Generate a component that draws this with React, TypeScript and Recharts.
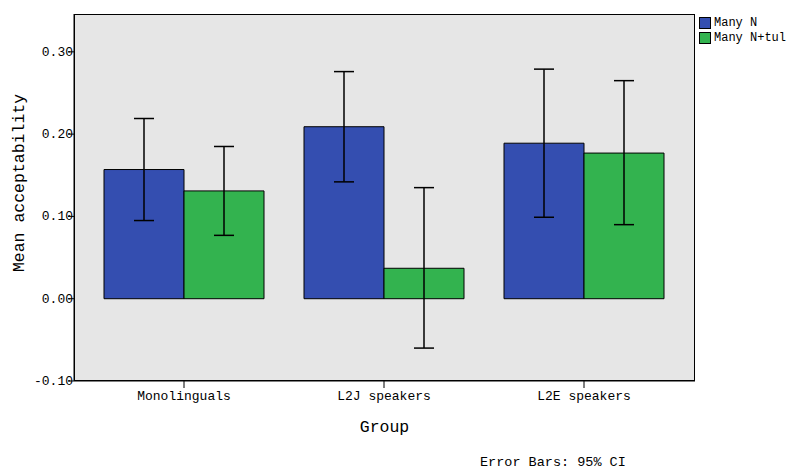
import React from 'react';
import { BarChart, Bar, XAxis, YAxis, CartesianGrid, ErrorBar, Label } from 'recharts';

const groups = ['Monolinguals', 'L2J speakers', 'L2E speakers'];
const manyN = [0.157, 0.209, 0.189];
const manyNLow = [0.095, 0.142, 0.099];
const manyNHigh = [0.219, 0.276, 0.279];
const manyNTul = [0.131, 0.037, 0.177];
const manyNTulLow = [0.077, -0.06, 0.09];
const manyNTulHigh = [0.185, 0.135, 0.265];
const yTicks = [-0.1, 0, 0.1, 0.2, 0.3];
const seriesNames = ['Many N', 'Many N+tul'];

const data = groups.map((g, i) => ({
  group: g,
  manyN: manyN[i],
  manyNErr: [manyN[i] - manyNLow[i], manyNHigh[i] - manyN[i]],
  manyNTul: manyNTul[i],
  manyNTulErr: [manyNTul[i] - manyNTulLow[i], manyNTulHigh[i] - manyNTul[i]],
}));

const FONT = '"Liberation Mono", "DejaVu Sans Mono", monospace';
const BLUE = '#344eb0';
const GREEN = '#33b34f';
const colors = [BLUE, GREEN];

const YTick = (props: any) => {
  const { x, y, payload } = props;
  return (
    <text x={x + 7} y={y} dy={4} textAnchor="end" fontFamily={FONT} fontSize={13} fill="#000">
      {payload.value.toFixed(2)}
    </text>
  );
};

const App = () => {
  return (
    <div style={{ position: 'absolute', left: 0, top: 0, width: 790, height: 471, background: '#fff', overflow: 'hidden' }}>
      <BarChart
        width={790}
        height={471}
        data={data}
        margin={{ top: 14, right: 95, left: 0, bottom: 32 }}
        barCategoryGap="10%"
        barGap={0}
      >
        <CartesianGrid horizontal={false} vertical={false} fill="#e6e6e6" />
        <XAxis
          dataKey="group"
          height={58}
          padding={{ left: 10, right: 11 }}
          tickSize={7}
          tickMargin={3}
          tick={{ fontFamily: FONT, fontSize: 13, fill: '#000' }}
          axisLine={{ stroke: '#000' }}
          tickLine={{ stroke: '#000' }}
        >
          <Label
            value="Group"
            position="insideBottom"
            offset={7}
            style={{ fontFamily: FONT, fontSize: 16.5, fill: '#000' }}
          />
        </XAxis>
        <YAxis
          width={74}
          domain={[-0.1, 0.346]}
          ticks={yTicks}
          tickSize={6}
          tick={<YTick />}
          axisLine={{ stroke: '#000' }}
          tickLine={{ stroke: '#000' }}
          allowDataOverflow
        >
          <Label
            content={() => (
              <text
                x={19}
                y={183}
                transform="rotate(-90 19 183)"
                textAnchor="middle"
                dominantBaseline="central"
                fontFamily={FONT}
                fontSize={16.5}
                fill="#000"
              >
                Mean acceptability
              </text>
            )}
          />
        </YAxis>
        <Bar dataKey="manyN" name={seriesNames[0]} fill={BLUE} stroke="#000" strokeWidth={1} isAnimationActive={false}>
          <ErrorBar dataKey="manyNErr" width={10} stroke="#000" strokeWidth={1.5} />
        </Bar>
        <Bar dataKey="manyNTul" name={seriesNames[1]} fill={GREEN} stroke="#000" strokeWidth={1} isAnimationActive={false}>
          <ErrorBar dataKey="manyNTulErr" width={10} stroke="#000" strokeWidth={1.5} />
        </Bar>
      </BarChart>
      {/* frame around the plot area */}
      <div
        style={{
          position: 'absolute',
          left: 74,
          top: 14,
          width: 621,
          height: 367,
          boxSizing: 'border-box',
          border: '1px solid #000',
          pointerEvents: 'none',
        }}
      />
      <div style={{ position: 'absolute', left: 699, top: 15, fontFamily: FONT, fontSize: 12, color: '#000' }}>
        {seriesNames.map((name, i) => (
          <div key={name} style={{ display: 'flex', alignItems: 'center', height: 15, whiteSpace: 'nowrap' }}>
            <span
              style={{
                display: 'inline-block',
                width: 10,
                height: 10,
                background: colors[i],
                border: '1px solid #000',
                marginRight: 3,
              }}
            />
            {name}
          </div>
        ))}
      </div>
      <div
        style={{
          position: 'absolute',
          left: 480,
          top: 455,
          fontFamily: FONT,
          fontSize: 13.5,
          color: '#000',
          whiteSpace: 'nowrap',
        }}
      >
        Error Bars: 95% CI
      </div>
    </div>
  );
};

export default App;
